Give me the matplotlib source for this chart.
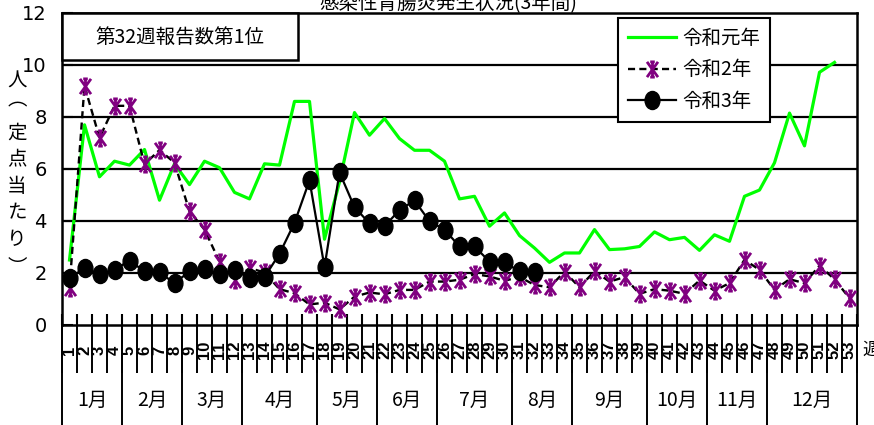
import numpy as np
import matplotlib
matplotlib.use("Agg")
import matplotlib.pyplot as plt
from matplotlib.path import Path
from matplotlib.transforms import Affine2D

plt.rcParams['font.family'] = ['Noto Sans CJK JP', 'DejaVu Sans']

# ---------------- data ----------------
weeks = list(range(1, 54))
r1_label = '令和元年'
r2_label = '令和2年'
r3_label = '令和3年'
r1 = [2.5, 7.7, 5.7, 6.3, 6.15, 6.75, 4.8, 6.2, 5.4, 6.3, 6.05, 5.1, 4.85, 6.2, 6.15, 8.6, 8.6, 3.3,
      5.5, 8.17, 7.3, 7.94, 7.17, 6.72, 6.72, 6.3, 4.85, 4.95, 3.8, 4.31, 3.44, 2.96, 2.41, 2.77,
      2.77, 3.67, 2.9, 2.93, 3.02, 3.58, 3.28, 3.37, 2.87, 3.47, 3.22, 4.95, 5.19, 6.24, 8.15,
      6.89, 9.72, 10.1]
r2 = [1.43, 9.2, 7.2, 8.43, 8.43, 6.18, 6.73, 6.24, 4.37, 3.67, 2.44, 1.74, 2.19, 2.02, 1.38,
      1.22, 0.79, 0.86, 0.6, 1.09, 1.25, 1.18, 1.35, 1.35, 1.67, 1.67, 1.74, 1.96, 1.87, 1.7,
      1.85, 1.54, 1.45, 2.05, 1.45, 2.07, 1.67, 1.84, 1.2, 1.38, 1.32, 1.2, 1.71, 1.32, 1.61,
      2.51, 2.12, 1.35, 1.76, 1.61, 2.28, 1.76, 1.03]
r3 = [1.8, 2.19, 1.95, 2.12, 2.48, 2.06, 2.02, 1.61, 2.06, 2.15, 1.95, 2.12, 1.8, 1.84, 2.74,
      3.93, 5.56, 2.23, 5.87, 4.53, 3.91, 3.8, 4.42, 4.79, 3.99, 3.67, 3.02, 3.02, 2.44, 2.41,
      2.06, 2.02]
months = ['1月', '2月', '3月', '4月', '5月', '6月', '7月', '8月', '9月', '10月', '11月', '12月']
month_weeks = [4, 4, 4, 5, 4, 4, 5, 4, 5, 4, 4, 6]
y_ticks = [0, 2, 4, 6, 8, 10, 12]
title = '感染性胃腸炎発生状況(3年間)'
note = '第32週報告数第1位'
ylabel_chars = ['人', '︵', '定', '点', '当', 'た', 'り', '︶']
week_unit = '週'

# ---------------- figure ----------------
W, H = 874, 425
fig = plt.figure(figsize=(W / 100, H / 100), dpi=100)
L, R, T, B = 62, 857, 13, 325
ax = fig.add_axes([L / W, 1 - B / H, (R - L) / W, (B - T) / H])

ax.set_xlim(0.5, 53.5)
ax.set_ylim(0, 12)

# markers
star_verts = [(0, -1), (0, 1), (-0.72, -1), (0.72, 1), (-0.72, 1), (0.72, -1),
              (-0.3, 1), (0.3, 1), (-0.3, -1), (0.3, -1)]
star_codes = [Path.MOVETO, Path.LINETO] * 5
star = Path(star_verts, star_codes)
ell = Path.unit_circle().transformed(Affine2D().scale(0.82, 1.0))

ax.plot(weeks[:len(r1)], r1, color='#00ff00', lw=2.3, zorder=3, label=r1_label)
ax.plot(weeks[:len(r2)], r2, color='black', lw=1.7, ls=(0, (3.0, 1.8)), zorder=4,
        marker=star, ms=11, mec='#800080', mew=2.0, mfc='none', label=r2_label)
ax.plot(weeks[:len(r3)], r3, color='black', lw=1.6, zorder=5,
        marker=ell, ms=13, mfc='black', mec='black', label=r3_label)

# grid
for yv in y_ticks[1:-1]:
    ax.axhline(yv, color='black', lw=1.6, zorder=1)

for s in ax.spines.values():
    s.set_linewidth(1.8)
    s.set_color('black')

ax.set_yticks(y_ticks)
ax.set_yticklabels([str(v) for v in y_ticks], family=['Liberation Sans Narrow', 'DejaVu Sans'],
                   fontsize=14)
ax.tick_params(axis='y', direction='in', length=8, width=1.5, pad=11)

bounds = np.arange(0.5, 54.5, 1.0)
ax.set_xticks(bounds)
ax.set_xticklabels([])
ax.tick_params(axis='x', direction='in', length=8, width=1.5)

xt = ax.get_xaxis_transform()
ax.vlines(bounds, -48 / (B - T), 0, transform=xt, color='black', lw=1.4, clip_on=False)
for w in weeks:
    ax.text(w, -25 / (B - T), str(w), transform=xt, rotation=90, ha='center', va='center',
            fontsize=12, fontweight='bold', family=['Liberation Sans', 'DejaVu Sans'],
            clip_on=False)

edges = np.concatenate([[0], np.cumsum(month_weeks)]) + 0.5
ax.vlines(edges, -100 / (B - T), 0, transform=xt, color='black', lw=1.4, clip_on=False)
for i, m in enumerate(months):
    ax.text((edges[i] + edges[i + 1]) / 2, -75 / (B - T), m, transform=xt,
            ha='center', va='center', fontsize=14, clip_on=False)

# legend
leg = ax.legend(loc='upper left', bbox_to_anchor=(618 / W, 1 - 18 / H),
                bbox_transform=fig.transFigure, borderaxespad=0, fontsize=14,
                frameon=True, fancybox=False, edgecolor='black', framealpha=1,
                handlelength=2.5, handletextpad=0.3, labelspacing=0.55, borderpad=0.5,
                numpoints=1)
leg.get_frame().set_linewidth(1.5)
leg.set_zorder(10)

# note box
fig.patches.append(plt.Rectangle((L / W, 1 - 60 / H), (298 - L) / W, (60 - T) / H,
                                 transform=fig.transFigure, fill=True, fc='white',
                                 ec='black', lw=1.8, zorder=9))
fig.text((L + 298) / 2 / W, 1 - 37 / H, note, ha='center', va='center', fontsize=14,
         zorder=11)

# title (partially clipped at top as in the reference)
fig.text(448 / W, 1 - 9 / H, title, ha='center', va='baseline', fontsize=14)

# y label (stacked characters)
for i, ch in enumerate(ylabel_chars):
    ypx = [81, 100, 133, 160, 187, 213, 240, 268][i]
    fig.text(17 / W, 1 - ypx / H, ch, ha='center', va='center', fontsize=14)

fig.text(862 / W, 1 - 350 / H, week_unit, ha='left', va='center', fontsize=13)

fig.savefig('out.png', dpi=100)
